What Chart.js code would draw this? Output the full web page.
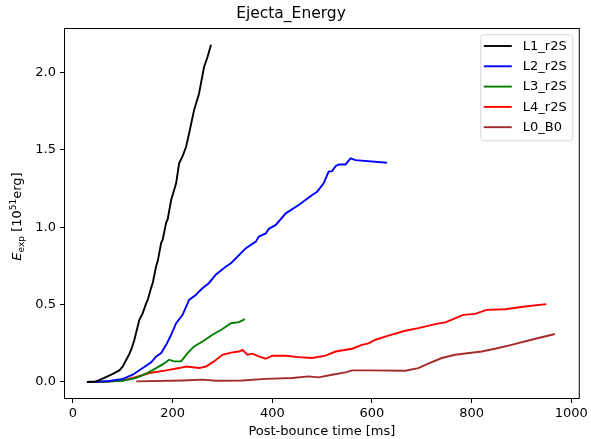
<!DOCTYPE html>
<html lang="en">
<head>
    <meta charset="UTF-8">
    <title>Ejecta_Energy</title>
    <script src="https://cdn.jsdelivr.net/npm/chart.js"></script>
    <style>
        body { margin: 0; background: #fff; }
        #wrap { width: 591px; height: 439px; }
    </style>
</head>
<body>
    <div id="wrap">
        <canvas id="chartEnergy" width="591" height="439"></canvas>
    </div>

    <script>
        // valores (t en ms, E en 1e51 erg)
        const seriesNames = ['L1_r2S', 'L2_r2S', 'L3_r2S', 'L4_r2S', 'L0_B0'];

        const l1Time = [28, 45, 53, 65, 80, 93, 100, 107, 113, 117, 123, 130, 133, 140, 147, 150, 157, 160, 167, 170, 177, 180, 187, 190, 197, 207, 213, 220, 227, 233, 243, 253, 263, 270, 277];
        const l1Energy = [0, 0.003, 0.012, 0.03, 0.052, 0.075, 0.10, 0.144, 0.18, 0.21, 0.27, 0.36, 0.40, 0.445, 0.51, 0.53, 0.61, 0.64, 0.75, 0.78, 0.90, 0.92, 1.03, 1.05, 1.176, 1.284, 1.413, 1.46, 1.52, 1.606, 1.757, 1.865, 2.036, 2.10, 2.18];

        const l2Time = [28, 50, 73, 100, 120, 140, 157, 167, 177, 187, 197, 207, 220, 233, 247, 253, 260, 273, 287, 307, 317, 327, 347, 367, 373, 387, 393, 407, 427, 453, 480, 490, 503, 513, 520, 527, 533, 547, 557, 567, 630];
        const l2Energy = [0, 0.002, 0.006, 0.02, 0.047, 0.09, 0.127, 0.165, 0.187, 0.24, 0.305, 0.38, 0.434, 0.53, 0.563, 0.585, 0.606, 0.64, 0.695, 0.746, 0.768, 0.80, 0.865, 0.907, 0.94, 0.96, 0.99, 1.015, 1.09, 1.144, 1.208, 1.23, 1.284, 1.36, 1.363, 1.395, 1.406, 1.406, 1.445, 1.434, 1.417];

        const l3Time = [30, 60, 100, 127, 147, 167, 183, 193, 203, 217, 230, 243, 260, 280, 300, 317, 333, 345];
        const l3Energy = [0, 0.001, 0.008, 0.026, 0.054, 0.09, 0.12, 0.144, 0.133, 0.133, 0.187, 0.23, 0.262, 0.305, 0.342, 0.38, 0.387, 0.406];

        const l4Time = [40, 70, 100, 127, 153, 187, 213, 227, 253, 267, 283, 300, 317, 333, 340, 350, 360, 373, 387, 400, 427, 453, 480, 507, 527, 560, 580, 593, 607, 633, 667, 693, 727, 747, 763, 783, 807, 830, 867, 907, 950];
        const l4Energy = [0, 0.002, 0.01, 0.032, 0.058, 0.075, 0.09, 0.1, 0.09, 0.1, 0.133, 0.176, 0.19, 0.197, 0.208, 0.176, 0.183, 0.165, 0.15, 0.17, 0.17, 0.161, 0.155, 0.17, 0.197, 0.215, 0.24, 0.25, 0.273, 0.30, 0.331, 0.348, 0.374, 0.385, 0.406, 0.434, 0.44, 0.466, 0.47, 0.488, 0.503];

        const l0Time = [127, 220, 260, 287, 340, 387, 440, 473, 493, 520, 547, 560, 593, 667, 693, 713, 740, 767, 820, 847, 880, 920, 967];
        const l0Energy = [0.004, 0.01, 0.015, 0.008, 0.01, 0.02, 0.026, 0.036, 0.03, 0.047, 0.062, 0.075, 0.075, 0.073, 0.09, 0.118, 0.155, 0.176, 0.197, 0.215, 0.24, 0.273, 0.31];

        const xTicks = [0, 200, 400, 600, 800, 1000];
        const yTicks = [0, 0.5, 1.0, 1.5, 2.0];

        const colores = ['#000000', '#0000ff', '#008000', '#ff0000', '#a52a2a'];
        const FONT = 'DejaVu Sans';

        function toPoints(ts, es) {
            return ts.map((t, i) => ({ x: t, y: es[i] }));
        }

        const allSeries = [
            [l1Time, l1Energy],
            [l2Time, l2Energy],
            [l3Time, l3Energy],
            [l4Time, l4Energy],
            [l0Time, l0Energy]
        ];

        // titulo del eje y con subindice y superindice
        const yLabelParts = [
            { text: 'E', size: 13, style: 'italic', dv: 0 },
            { text: 'exp', size: 9, style: '', dv: 3 },
            { text: ' [10', size: 13, style: '', dv: 0 },
            { text: '51', size: 9, style: '', dv: -5 },
            { text: 'erg]', size: 13, style: '', dv: 0 }
        ];

        // marco del area y leyenda dentro del grafico (estilo matplotlib)
        const frameLegend = {
            id: 'frameLegend',
            afterDraw(chart) {
                const ctx = chart.ctx;
                const a = chart.chartArea;
                ctx.save();
                ctx.strokeStyle = '#000';
                ctx.lineWidth = 1;
                ctx.strokeRect(a.left + 0.5, a.top + 0.5, a.right - a.left - 1, a.bottom - a.top - 1);

                const bw = 92, bh = 106;
                const bx = a.right - 7.5 - bw, by = a.top + 6.3;
                ctx.beginPath();
                ctx.roundRect(bx + 0.5, by + 0.5, bw, bh, 3);
                ctx.fillStyle = 'rgba(255,255,255,0.8)';
                ctx.fill();
                ctx.strokeStyle = '#d6d6d6';
                ctx.stroke();

                ctx.font = '13px "' + FONT + '"';
                ctx.textBaseline = 'middle';
                ctx.textAlign = 'left';
                chart.data.datasets.forEach((ds, i) => {
                    const yy = by + 11.7 + i * 20.3;
                    ctx.beginPath();
                    ctx.moveTo(bx + 3.5, yy);
                    ctx.lineTo(bx + 31.5, yy);
                    ctx.strokeStyle = ds.borderColor;
                    ctx.lineWidth = 1.9;
                    ctx.stroke();
                    ctx.fillStyle = '#000';
                    ctx.fillText(ds.label, bx + 42.5, yy + 0.5);
                });

                // etiqueta del eje y
                const fontOf = (p) => (p.style ? p.style + ' ' : '') + p.size + 'px "' + FONT + '"';
                let total = 0;
                yLabelParts.forEach(p => { ctx.font = fontOf(p); total += ctx.measureText(p.text).width; });
                ctx.translate(21, (a.top + a.bottom) / 2 + 3);
                ctx.rotate(-Math.PI / 2);
                ctx.textBaseline = 'alphabetic';
                ctx.fillStyle = '#000';
                let u = -total / 2;
                yLabelParts.forEach(p => {
                    ctx.font = fontOf(p);
                    ctx.fillText(p.text, u, p.dv);
                    u += ctx.measureText(p.text).width;
                });
                ctx.restore();
            }
        };

        const ctx = document.getElementById('chartEnergy').getContext('2d');
        new Chart(ctx, {
            type: 'line',
            data: {
                datasets: allSeries.map((s, i) => ({
                    label: seriesNames[i],
                    data: toPoints(s[0], s[1]),
                    borderColor: colores[i],
                    backgroundColor: colores[i],
                    borderWidth: 1.9,
                    pointRadius: 0,
                    tension: 0,
                    fill: false
                }))
            },
            options: {
                responsive: false,
                animation: false,
                layout: { padding: { left: 0, right: 9, top: 0, bottom: 0 } },
                plugins: {
                    legend: { display: false },
                    tooltip: { enabled: false },
                    title: {
                        display: true,
                        text: 'Ejecta_Energy',
                        color: '#000',
                        font: { family: FONT, size: 15.5, weight: 'normal' },
                        padding: { top: 4.7, bottom: 4.7 }
                    }
                },
                scales: {
                    x: {
                        type: 'linear',
                        min: -18,
                        max: 1017,
                        afterBuildTicks: (scale) => { scale.ticks = xTicks.map(v => ({ value: v })); },
                        afterFit: (scale) => { scale.height = 40; },
                        grid: { display: true, drawOnChartArea: false, drawTicks: true, tickLength: 4, color: '#000' },
                        border: { display: false },
                        ticks: {
                            color: '#000',
                            padding: 3,
                            maxRotation: 0,
                            font: { family: FONT, size: 13 },
                            callback: (v) => String(v)
                        },
                        title: {
                            display: true,
                            text: 'Post-bounce time [ms]',
                            color: '#000',
                            font: { family: FONT, size: 13 },
                            padding: { top: 0, bottom: 0 }
                        }
                    },
                    y: {
                        type: 'linear',
                        min: -0.11,
                        max: 2.288,
                        afterBuildTicks: (scale) => { scale.ticks = yTicks.map(v => ({ value: v })); },
                        afterFit: (scale) => { scale.width = 64; },
                        grid: { display: true, drawOnChartArea: false, drawTicks: true, tickLength: 4, color: '#000' },
                        border: { display: false },
                        ticks: {
                            color: '#000',
                            padding: 4,
                            font: { family: FONT, size: 13 },
                            callback: (v) => Number(v).toFixed(1)
                        },
                        title: { display: false }
                    }
                }
            },
            plugins: [frameLegend]
        });
    </script>
</body>
</html>
